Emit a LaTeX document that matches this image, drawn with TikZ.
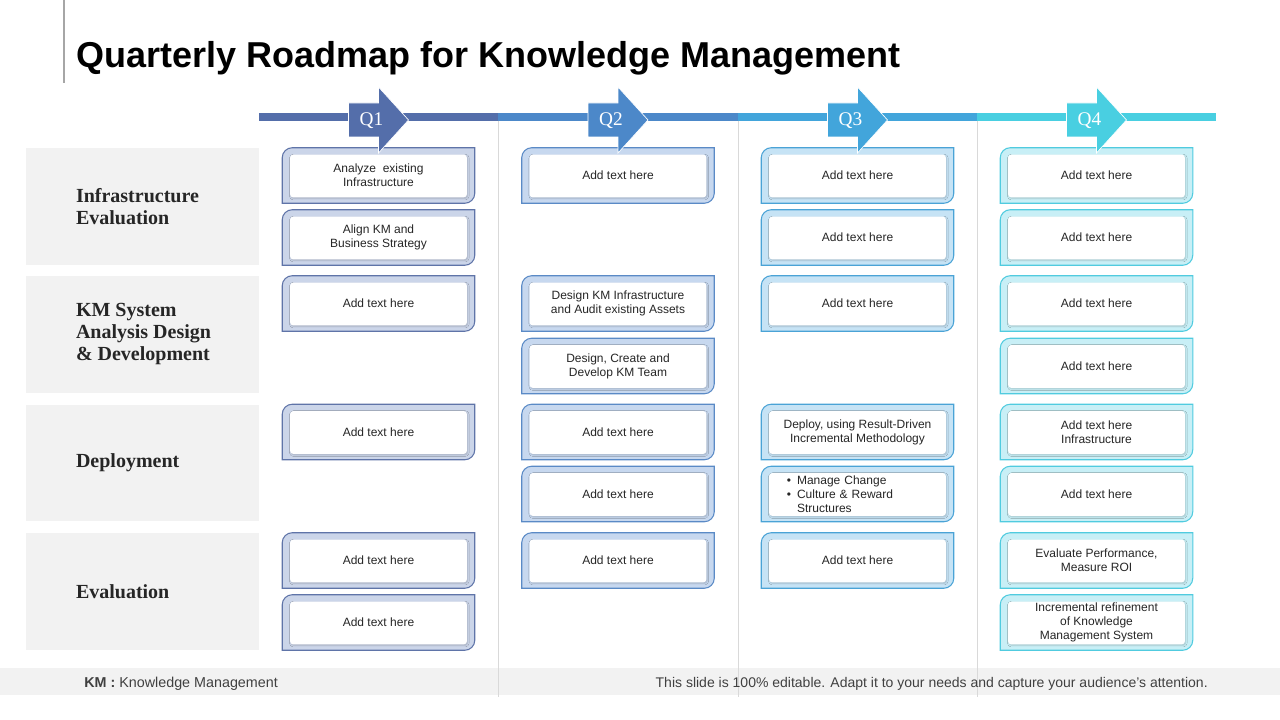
\documentclass[tikz,border=0pt]{standalone}
\usepackage{fontspec}
\setmainfont{Liberation Sans}
\newfontfamily\headfont{Liberation Serif}
\usetikzlibrary{positioning,calc,shadows.blur}
\definecolor{ink}{HTML}{262626}
\definecolor{muted}{HTML}{404040}
\definecolor{line}{HTML}{D9D9D9}
\definecolor{panel}{HTML}{F2F2F2}
\definecolor{q1}{HTML}{546EAA}
\definecolor{q2}{HTML}{4C88C9}
\definecolor{q3}{HTML}{42A5DB}
\definecolor{q4}{HTML}{49CFE1}
\definecolor{q1edge}{HTML}{5F74A8}
\definecolor{q2edge}{HTML}{5A8AC6}
\definecolor{q3edge}{HTML}{4AA3D6}
\definecolor{q4edge}{HTML}{50CBDF}
\definecolor{q1fill}{HTML}{CBD5E9}
\definecolor{q2fill}{HTML}{C7D8EF}
\definecolor{q3fill}{HTML}{C6E3F5}
\definecolor{q4fill}{HTML}{C8EFF6}
\pgfdeclarelayer{background}
\pgfsetlayers{background,main}
\tikzset{
  card/.style={minimum width=144pt,minimum height=41.25pt,inner sep=0pt,align=center,font=\fontsize{9}{10.5}\selectfont,text=ink},
  cardinner/.style={fill=white,rounded corners=2pt,blur shadow={shadow xshift=0.6pt,shadow yshift=-0.8pt,shadow blur radius=1.2pt,shadow opacity=18}},
  rowpanel/.style={fill=panel,minimum width=174.75pt,minimum height=87.75pt,inner sep=0pt},
  rowlabel/.style={font=\headfont\bfseries\fontsize{15}{16.5}\selectfont,align=left,inner sep=0pt,text=ink},
  qlabel/.style={font=\headfont\fontsize{14.5}{16}\selectfont,text=white,inner sep=0pt},
  sepline/.style={draw=line,line width=0.75pt},
  footnote/.style={font=\fontsize{10.5}{12}\selectfont,text=muted,inner sep=0pt}
}
% card: outer frame with two rounded corners, white face on top
\newcommand{\roadcard}[6][]{%
  \node[card,#1] (#2) at (#3,#4) {#6};
  \begin{pgfonlayer}{background}
    \draw[draw=#5edge,fill=#5fill,line width=0.8pt] (#2.south west) -- ([yshift=-7.5pt]#2.north west) arc[start angle=180,end angle=90,radius=7.5pt] -- (#2.north east) -- ([yshift=7.5pt]#2.south east) arc[start angle=0,end angle=-90,radius=7.5pt] -- cycle;
    \path[cardinner] ([xshift=6pt,yshift=4.5pt]#2.south west) rectangle ([xshift=-6pt,yshift=-5.25pt]#2.north east);
  \end{pgfonlayer}}

\begin{document}
\begin{tikzpicture}[x=0.75pt,y=0.75pt]
  \useasboundingbox (0,0) rectangle (1280,-720);

  \draw[draw=black!35,line width=1.5pt] (64,0) -- (64,-83);
  \node[anchor=base west,font=\bfseries\fontsize{27}{30}\selectfont,inner sep=0pt] (title) at (76,-68) {Quarterly Roadmap for Knowledge Management};

  % row headers
  \node[rowpanel] (infra) at (142.5,-206.5) {};
  \node[rowpanel] (kmsys) at (142.5,-334.5) {};
  \node[rowpanel,minimum height=87pt] (deploy) at (142.5,-463) {};
  \node[rowpanel] (evalrow) at (142.5,-591.5) {};
  \node[rowlabel,right=37.5pt of infra.west] (infratxt) {Infrastructure\\Evaluation};
  \node[rowlabel,right=37.5pt of kmsys.west] (kmsystxt) {KM System\\Analysis Design\\\& Development};
  \node[rowlabel,right=37.5pt of deploy.west] (deploytxt) {Deployment};
  \node[rowlabel,right=37.5pt of evalrow.west] (evaltxt) {Evaluation};

  % column rules and footer band
  \fill[panel] (0,-668) rectangle (1280,-695);
  \foreach \sx in {498,738,977}
    \draw[sepline] (\sx,-121) -- (\sx,-697);
  \node[footnote,anchor=west,font=\fontsize{10.75}{12}\selectfont] (kmnote) at (84,-684) {\textbf{KM :} Knowledge Management};
  \node[footnote,anchor=east] (editnote) at (1208,-684) {This slide is 100\% editable. Adapt it to your needs and capture your audience's attention.};

  % timeline bar
  \draw[q1,line width=6pt] (259,-117) -- (498,-117);
  \draw[q2,line width=6pt] (498,-117) -- (738,-117);
  \draw[q3,line width=6pt] (738,-117) -- (977,-117);
  \draw[q4,line width=6pt] (977,-117) -- (1216,-117);

  % Q1
  \roadcard{analyze}{378.5}{-175.5}{q1}{Analyze\ \ existing\\Infrastructure}
  \roadcard{align}{378.5}{-237.5}{q1}{Align KM and\\Business Strategy}
  \roadcard{q1r3}{378.5}{-303.5}{q1}{Add text here}
  \roadcard{q1r5}{378.5}{-432}{q1}{Add text here}
  \roadcard{q1r7}{378.5}{-560.5}{q1}{Add text here}
  \roadcard{q1r8}{378.5}{-622.5}{q1}{Add text here}
  % Q2
  \roadcard{q2r1}{618}{-175.5}{q2}{Add text here}
  \roadcard{designinfra}{618}{-303.5}{q2}{Design KM Infrastructure\\and Audit existing Assets}
  \roadcard{kmteam}{618}{-366}{q2}{Design, Create and\\Develop KM Team}
  \roadcard{q2r5}{618}{-432}{q2}{Add text here}
  \roadcard{q2r6}{618}{-494}{q2}{Add text here}
  \roadcard{q2r7}{618}{-560.5}{q2}{Add text here}
  % Q3
  \roadcard{q3r1}{857.5}{-175.5}{q3}{Add text here}
  \roadcard{q3r2}{857.5}{-237.5}{q3}{Add text here}
  \roadcard{q3r3}{857.5}{-303.5}{q3}{Add text here}
  \roadcard{deployrd}{857.5}{-432}{q3}{Deploy, using Result-Driven\\Incremental Methodology}
  \roadcard[align=left,text width=106pt]{change}{857.5}{-494}{q3}{\textbullet\hspace{4.5pt}Manage Change\\\textbullet\hspace{4.5pt}Culture \& Reward\\\hphantom{\textbullet}\hspace{4.5pt}Structures}
  \roadcard{q3r7}{857.5}{-560.5}{q3}{Add text here}
  % Q4
  \roadcard{q4r1}{1096.5}{-175.5}{q4}{Add text here}
  \roadcard{q4r2}{1096.5}{-237.5}{q4}{Add text here}
  \roadcard{q4r3}{1096.5}{-303.5}{q4}{Add text here}
  \roadcard{q4r4}{1096.5}{-366}{q4}{Add text here}
  \roadcard{q4r5}{1096.5}{-432}{q4}{Add text here\\Infrastructure}
  \roadcard{q4r6}{1096.5}{-494}{q4}{Add text here}
  \roadcard{measure}{1096.5}{-560.5}{q4}{Evaluate Performance,\\Measure ROI}
  \roadcard{refine}{1096.5}{-622.5}{q4}{Incremental refinement\\of Knowledge\\Management System}

  % quarter arrows
  \foreach \q/\cx in {1/378.5,2/618,3/857.5,4/1096.5} {
    \filldraw[fill=q\q,draw=white,line width=0.5pt] (\cx-30,-103) -- (\cx,-103) -- (\cx,-87) -- (\cx+30,-120) -- (\cx,-153) -- (\cx,-137) -- (\cx-30,-137) -- cycle;
    \node[qlabel] (quarter\q) at (\cx-7,-121) {Q\q};
  }
\end{tikzpicture}
\end{document}
